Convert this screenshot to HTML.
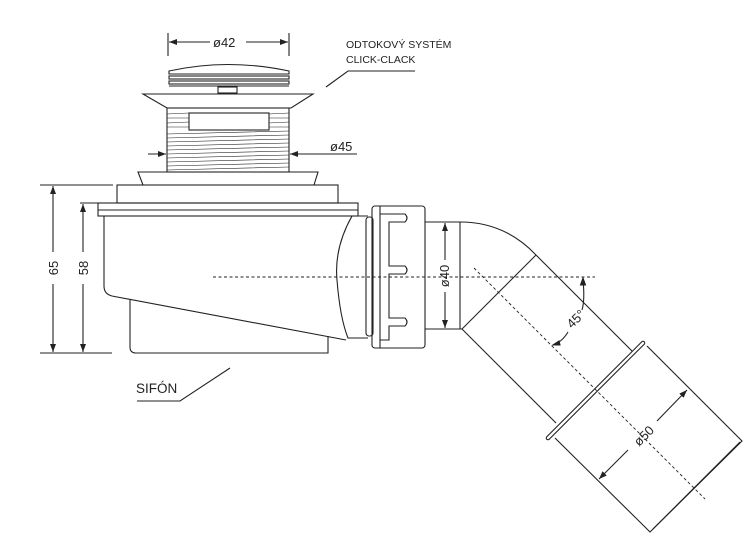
<!DOCTYPE html>
<html><head><style>body{margin:0;background:#fff}svg{display:block}text{font-family:"Liberation Sans",sans-serif;fill:#222}</style></head><body>
<svg width="756" height="557" viewBox="0 0 756 557" xmlns="http://www.w3.org/2000/svg">
<defs><marker id="a" markerWidth="8" markerHeight="6" refX="8" refY="3" orient="auto" markerUnits="userSpaceOnUse"><path d="M0,0 L8,3 L0,6 Z" fill="#222"/></marker></defs>
<g fill="none" stroke="#222" stroke-width="1.1">
<line x1="168" y1="33" x2="168" y2="56"/><line x1="289" y1="33" x2="289" y2="56"/>
<line x1="210" y1="42" x2="169" y2="42" marker-end="url(#a)"/><line x1="246" y1="42" x2="288" y2="42" marker-end="url(#a)"/>
<path d="M169,71 Q228,58 289,71 L289,74 L169,74 Z"/>
<rect x="169" y="76" width="120" height="3"/><rect x="169" y="81" width="120" height="3"/>
<line x1="169" y1="86" x2="289" y2="86"/>
<rect x="218" y="87" width="19" height="6"/>
<path d="M143,94 L313,94 L291,108 L167,108 Z"/>
<rect x="167" y="108" width="122" height="64"/>
<rect x="189" y="113" width="80" height="17"/>
<g stroke-width="0.6"><path d="M167,114 L189,113 M167,118 L189,118 M167,123 L189,122 M167,127 L189,127 M269,114 L289,113 M269,118 L289,118 M269,123 L289,122 M269,127 L289,127"/>
<path d="M167,134 L289,131 M167,138 L289,135 M167,142 L289,139 M167,146 L289,143 M167,150 L289,147 M167,154 L289,151 M167,158 L289,155 M167,162 L289,159 M167,166 L289,163 M167,170 L289,167"/></g>
<line x1="148" y1="154" x2="166" y2="154" marker-end="url(#a)"/><line x1="357" y1="154" x2="290" y2="154" marker-end="url(#a)"/>
<path d="M138,172 L318,172 L314,185 L143,185 Z"/>
<rect x="117" y="185" width="221" height="18"/>
<rect x="98" y="203" width="260" height="13"/><line x1="98" y1="210" x2="358" y2="210"/>
<path d="M104,216 L104,286 Q104,294 112,296 L346,340"/>
<path d="M130,299 L130,347 Q130,353 136,353 L328,353 L328,336"/>
<path d="M354,216 L368,216 M352,216 Q334,248 337,280 Q340,318 348,338 L368,338"/>
<rect x="366" y="217" width="7" height="119" rx="3"/>
<rect x="372" y="206" width="53" height="142" rx="3"/>
<line x1="380" y1="206" x2="380" y2="348"/>
<path d="M380,214 L405,214 Q409,218 405,222 L389,222 L389,266 L405,266 Q409,270 405,274 L389,274 L389,318 L405,318 Q409,322 405,326 L389,326 L389,340 L380,340"/>
<path d="M425,222 L460,222 Q505,222 536,255 L635,354"/>
<path d="M425,329 L462,329 L556,423"/>
<line x1="460" y1="222" x2="460" y2="329"/><line x1="462" y1="329" x2="536" y2="255"/>
<line x1="548" y1="438" x2="643" y2="343" stroke-width="4.5" stroke-linecap="round"/>
<line x1="548" y1="438" x2="643" y2="343" stroke="#fff" stroke-width="2.3" stroke-linecap="round"/>
<path d="M555,438 L650,532 L742,441 L647,346"/>
<line x1="653" y1="529" x2="740" y2="442"/>
<line x1="445" y1="260" x2="445" y2="223" marker-end="url(#a)"/><line x1="445" y1="292" x2="445" y2="328" marker-end="url(#a)"/>
<line x1="213" y1="277" x2="595" y2="277" stroke-dasharray="3,2.5" stroke-width="0.9"/>
<line x1="474" y1="268" x2="705" y2="499" stroke-dasharray="3,2.5" stroke-width="0.9"/>
<path d="M583,280 Q585,300 582,310 M568,332 Q562,342 553,345"/>
<path d="M583,278 l-2.5,7 l5,0 Z M553,345 l6,-4 l1,4 Z" fill="#222"/>
<line x1="628" y1="450" x2="599" y2="479" marker-end="url(#a)"/><line x1="657" y1="421" x2="687" y2="390" marker-end="url(#a)"/>
<line x1="40" y1="185" x2="113" y2="185"/><line x1="40" y1="353" x2="112" y2="353"/><line x1="80" y1="203" x2="98" y2="203"/>
<line x1="53" y1="252" x2="53" y2="186" marker-end="url(#a)"/><line x1="53" y1="284" x2="53" y2="352" marker-end="url(#a)"/>
<line x1="83" y1="252" x2="83" y2="204" marker-end="url(#a)"/><line x1="83" y1="284" x2="83" y2="352" marker-end="url(#a)"/>
<path d="M326,87 L348,71 L415,71"/>
<path d="M137,401 L180,401 L230,368"/>
</g>
<text x="213" y="47" font-size="13">ø42</text>
<text x="330" y="151" font-size="13">ø45</text>
<text x="346" y="48" font-size="10.5">ODTOKOVÝ SYSTÉM</text>
<text x="346" y="63" font-size="10.5">CLICK-CLACK</text>
<text x="136" y="393" font-size="13.5">SIFÓN</text>
<text transform="translate(58,268) rotate(-90)" font-size="13" text-anchor="middle">65</text>
<text transform="translate(88,268) rotate(-90)" font-size="13" text-anchor="middle">58</text>
<text transform="translate(449,276) rotate(-90)" font-size="13" text-anchor="middle">ø40</text>
<text transform="translate(579,322) rotate(-45)" font-size="13" text-anchor="middle">45°</text>
<text transform="translate(647,439) rotate(-45)" font-size="13" text-anchor="middle">ø50</text>
</svg>
</body></html>
